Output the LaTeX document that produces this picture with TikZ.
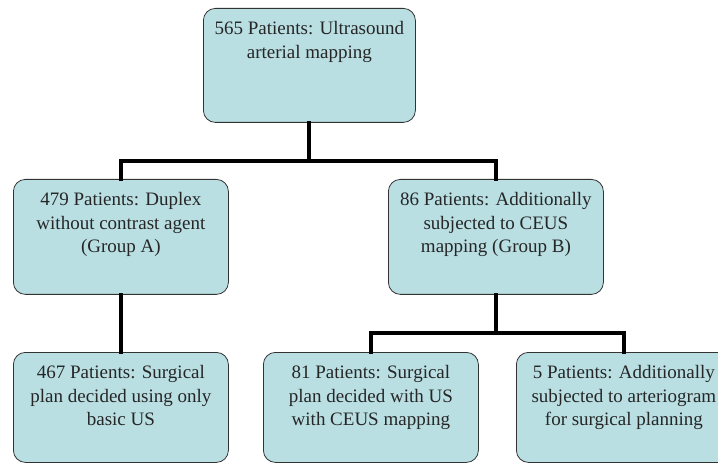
\documentclass[tikz,border=0pt]{standalone}
\usepackage{fontspec}
\usetikzlibrary{calc}
\setmainfont{Liberation Serif}
\begin{document}
\begin{tikzpicture}[x=1pt,y=-1pt,
  box/.style={draw=black!80, line width=0.8pt, fill=boxfill, rounded corners=12pt,
    inner sep=0pt, anchor=north west, text=black!85},
  conn/.style={line width=4pt, line cap=rect, line join=miter}]
\definecolor{boxfill}{HTML}{B9DFE3}
\useasboundingbox (0,0) rectangle (718,465);
\clip (0,0) rectangle (718,465);
\newcommand{\boxtext}[3]{\parbox[c][#2pt][t]{#1pt}{\vspace*{13pt}\centering\fontsize{19}{23.5}\selectfont #3}}
\node[box] (top) at (203,8) {\boxtext{212}{114}{565 Patients: Ultrasound\\arterial mapping}};
\node[box] (A) at (13,179) {\boxtext{215}{115}{479 Patients: Duplex\\without contrast agent\\(Group A)}};
\node[box] (B) at (388,179) {\boxtext{215}{115}{86 Patients: Additionally\\subjected to CEUS\\mapping (Group B)}};
\node[box] (A1) at (13,352) {\boxtext{215}{110}{467 Patients: Surgical\\plan decided using only\\basic US}};
\node[box] (B1) at (263,352) {\boxtext{215}{110}{81 Patients: Surgical\\plan decided with US\\with CEUS mapping}};
\node[box] (B2) at (516,352) {\boxtext{215}{110}{5 Patients: Additionally\\subjected to arteriogram\\for surgical planning}};
\coordinate (bus1) at ($(top.south)+(0,38)$);
\coordinate (bus2) at ($(B.south)+(0,38)$);
\draw[conn] (top.south) -- (bus1);
\draw[conn] (A.north) |- (bus1) -| (B.north);
\draw[conn] (B.south) -- (bus2);
\draw[conn] (B1.north) |- (bus2) -| (B2.north);
\draw[conn] (A.south) -- (A1.north);
\end{tikzpicture}
\end{document}
